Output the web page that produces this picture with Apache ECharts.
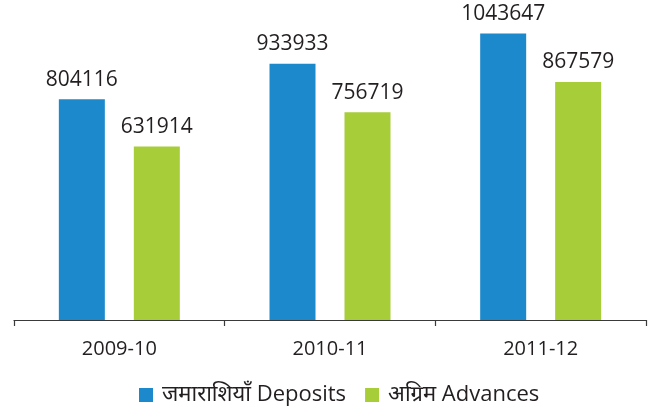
<!DOCTYPE html>
<html>
<head>
<meta charset="utf-8">
<script src="https://cdn.jsdelivr.net/npm/echarts@6/dist/echarts.min.js"></script>
<style>
html, body { margin: 0; padding: 0; background: #fff; }
#chart { width: 649px; height: 419px; }
</style>
</head>
<body>
<div id="chart"></div>
<script>
const years = ['2009-10', '2010-11', '2011-12']
const deposits = [804116, 933933, 1043647]
const advances = [631914, 756719, 867579]
const seriesNames = ['जमाराशियाँ Deposits', 'अग्रिम Advances']

const font = "'Open Sans', 'Noto Sans', sans-serif"
const chart = echarts.init(document.getElementById('chart'))

const labelStyle = {
  show: true,
  position: 'top',
  distance: 9,
  color: '#231f20',
  fontSize: 21,
  fontFamily: font
}

chart.setOption({
  animation: false,
  grid: { left: 14, right: 3, top: 0, bottom: 99 },
  legend: {
    left: 134,
    top: 379,
    icon: 'rect',
    itemWidth: 14,
    itemHeight: 14,
    itemGap: 19,
    textStyle: { fontSize: 22, color: '#231f20', fontFamily: font, padding: [0, 0, 0, 4] }
  },
  xAxis: {
    type: 'category',
    data: years,
    axisLine: { lineStyle: { color: '#3a3a3a', width: 1.2 } },
    axisTick: { show: true, length: 6, lineStyle: { color: '#3a3a3a', width: 1.2 } },
    axisLabel: { fontSize: 20, color: '#231f20', fontFamily: font, margin: 19 }
  },
  yAxis: {
    type: 'value',
    min: 0,
    max: 1166000,
    show: false,
    splitLine: { show: false }
  },
  series: [
    {
      name: seriesNames[0],
      type: 'bar',
      data: deposits,
      barWidth: 46,
      barGap: '63%',
      itemStyle: { color: '#1c89cc' },
      label: labelStyle
    },
    {
      name: seriesNames[1],
      type: 'bar',
      data: advances,
      barWidth: 46,
      itemStyle: { color: '#a7cd39' },
      label: labelStyle
    }
  ]
})
</script>
</body>
</html>
